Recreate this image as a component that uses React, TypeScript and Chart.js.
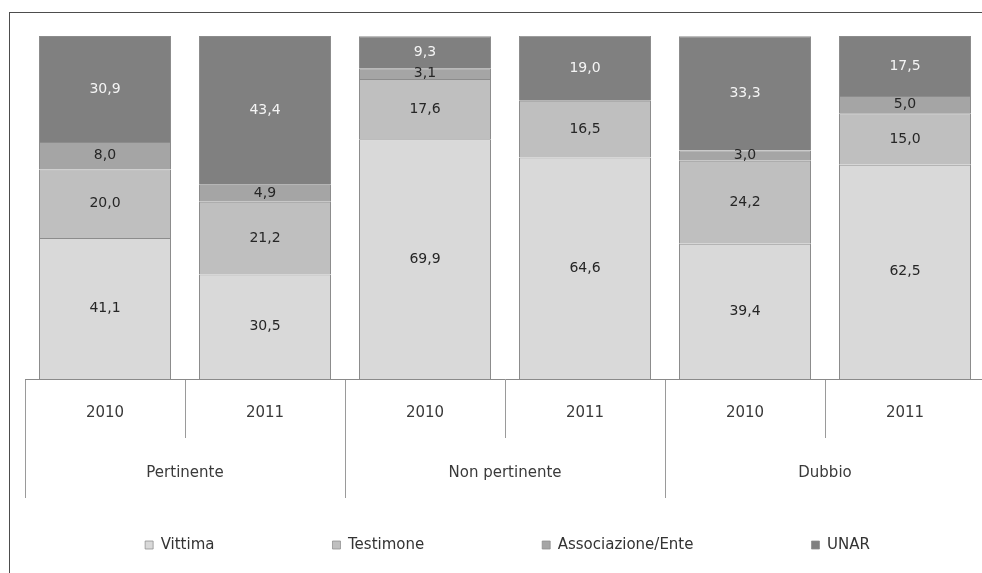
import React, { useEffect, useRef } from "react";
import { Chart, registerables } from "chart.js";

Chart.register(...registerables);

const years = ["2010", "2011", "2010", "2011", "2010", "2011"];
const groups = ["Pertinente", "Non pertinente", "Dubbio"];
const seriesNames = ["Vittima", "Testimone", "Associazione/Ente", "UNAR"];
const vittima = [41.1, 30.5, 69.9, 64.6, 39.4, 62.5];
const testimone = [20.0, 21.2, 17.6, 16.5, 24.2, 15.0];
const associazione = [8.0, 4.9, 3.1, null, 3.0, 5.0];
const unar = [30.9, 43.4, 9.3, 19.0, 33.3, 17.5];

const seriesValues = [vittima, testimone, associazione, unar];
const seriesColors = ["#d9d9d9", "#bfbfbf", "#a5a5a5", "#808080"];
const labelColors = ["#262626", "#262626", "#262626", "#f4f4f4"];

const FONT = "'DejaVu Sans', sans-serif";
const LEGEND_PAD = 118;
const LEGEND_CENTER_Y = 532;

const valueLabels = {
  id: "valueLabels",
  afterDatasetsDraw(chart: any) {
    const ctx = chart.ctx;
    ctx.save();
    ctx.font = `14px ${FONT}`;
    ctx.textAlign = "center";
    ctx.textBaseline = "middle";
    chart.data.datasets.forEach((ds: any, i: number) => {
      const meta = chart.getDatasetMeta(i);
      meta.data.forEach((el: any, j: number) => {
        const v = ds.data[j];
        if (v === null || v === undefined || v === 0) return;
        const y = (el.y + el.base) / 2;
        ctx.fillStyle = labelColors[i];
        ctx.fillText(v.toFixed(1).replace(".", ","), el.x, y);
      });
    });
    ctx.restore();
  },
};

const legendShift = {
  id: "legendShift",
  beforeDraw(chart: any) {
    const lg = chart.legend;
    if (!lg) return;
    lg._savedTop = lg.top;
    lg._savedBottom = lg.bottom;
    lg.top = LEGEND_CENTER_Y - LEGEND_PAD - 7.5;
    lg.bottom = LEGEND_CENTER_Y + 20;
  },
  afterDraw(chart: any) {
    const lg = chart.legend;
    if (!lg || lg._savedTop === undefined) return;
    lg.top = lg._savedTop;
    lg.bottom = lg._savedBottom;
  },
};

export default function App() {
  const ref = useRef<HTMLCanvasElement | null>(null);

  useEffect(() => {
    if (!ref.current) return;
    const chart = new Chart(ref.current, {
      type: "bar",
      data: {
        labels: years,
        datasets: seriesNames.map((name, i) => ({
          label: name,
          data: seriesValues[i],
          backgroundColor: seriesColors[i],
          borderColor: "#8c8c8c",
          borderWidth: { top: 1, left: 1, right: 1, bottom: 0 },
          borderSkipped: false,
          barPercentage: 0.825,
          categoryPercentage: 1,
        })),
      },
      options: {
        responsive: false,
        animation: false,
        layout: { padding: { top: 23, left: 0, right: 0, bottom: 60 } },
        plugins: {
          tooltip: { enabled: false },
          legend: {
            position: "bottom",
            maxHeight: 20,
            labels: {
              boxWidth: 8,
              boxHeight: 8,
              padding: LEGEND_PAD,
              color: "#333333",
              font: { family: FONT, size: 15 },
            },
          },
        },
        scales: {
          x: {
            type: "category",
            stacked: true,
            offset: true,
            grid: {
              offset: true,
              drawOnChartArea: false,
              drawTicks: true,
              tickLength: 59,
              color: "#9a9a9a",
            },
            border: { display: true, color: "#8a8a8a", width: 1 },
            ticks: {
              autoSkip: false,
              maxRotation: 0,
              padding: -34,
              color: "#3a3a3a",
              font: { family: FONT, size: 15 },
            },
            afterFit: (s: any) => {
              s.height = 59;
            },
          },
          x2: {
            type: "category",
            position: "bottom",
            labels: groups,
            offset: true,
            weight: 1,
            grid: {
              offset: true,
              drawOnChartArea: false,
              drawTicks: true,
              tickLength: 60,
              color: "#9a9a9a",
            },
            border: { display: false },
            ticks: {
              autoSkip: false,
              maxRotation: 0,
              padding: -34,
              color: "#3a3a3a",
              font: { family: FONT, size: 15 },
            },
            afterFit: (s: any) => {
              s.height = 60;
            },
          },
          y: {
            stacked: true,
            min: 0,
            max: 100,
            position: "left",
            grid: { display: false },
            border: { display: false },
            ticks: { display: false },
            afterFit: (s: any) => {
              s.width = 15;
            },
          },
          yR: {
            type: "linear",
            position: "right",
            grid: { display: false },
            border: { display: false },
            ticks: { display: false },
            afterFit: (s: any) => {
              s.width = 20;
            },
          },
        },
      } as any,
      plugins: [valueLabels, legendShift],
    });
    return () => chart.destroy();
  }, []);

  return (
    <div
      style={{
        position: "fixed",
        left: 0,
        top: 0,
        width: 982,
        height: 573,
        overflow: "hidden",
        background: "#ffffff",
      }}
    >
      <div
        style={{
          position: "absolute",
          left: 9,
          top: 12,
          width: 1100,
          height: 700,
          border: "1px solid #4d4d4d",
          boxSizing: "border-box",
        }}
      >
        <canvas
          ref={ref}
          width={995}
          height={565}
          style={{ position: "absolute", left: 0, top: 0, width: 995, height: 565 }}
        />
      </div>
    </div>
  );
}
